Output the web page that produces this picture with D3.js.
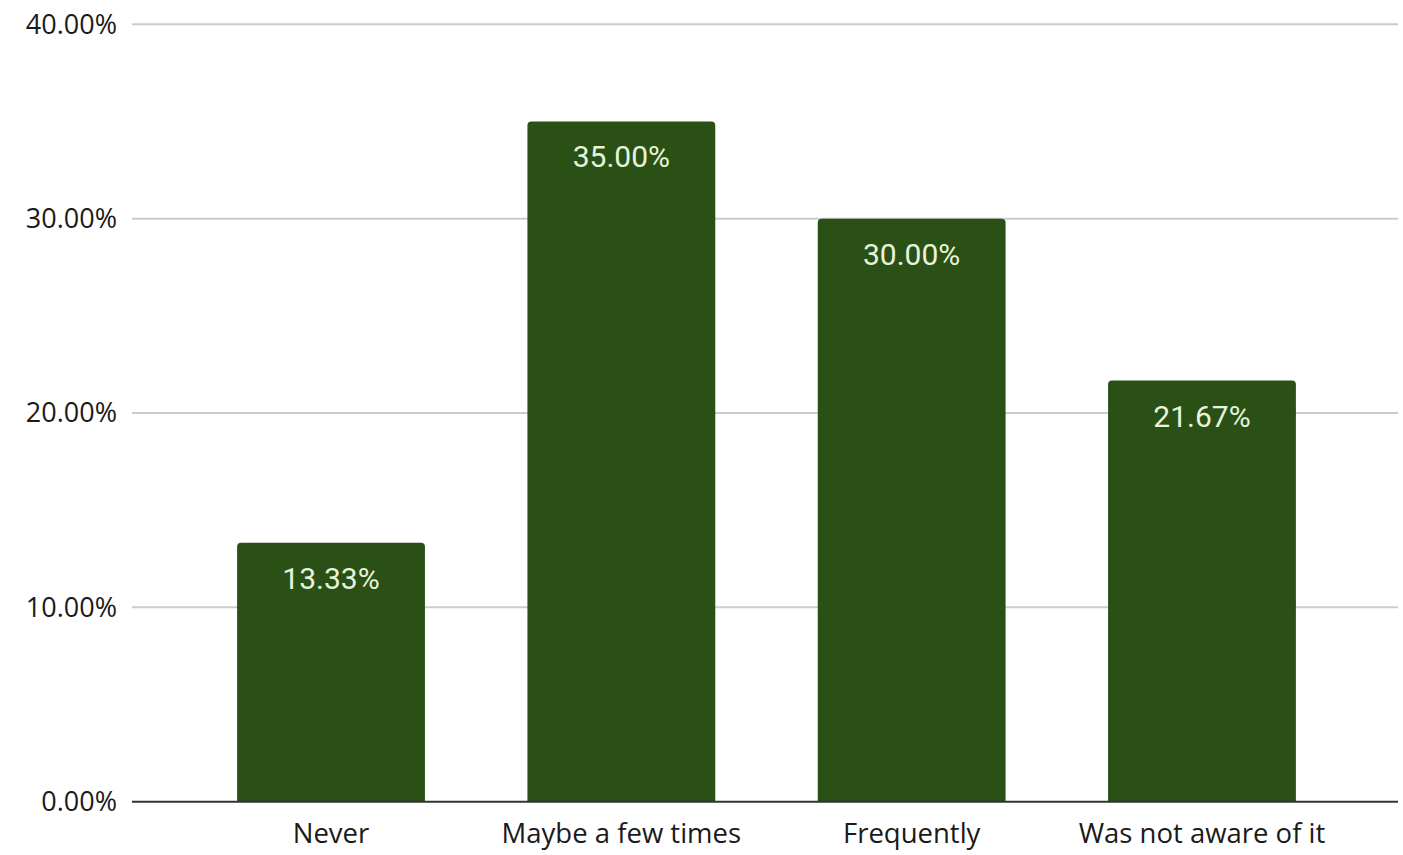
<!DOCTYPE html>
<html><head><meta charset="utf-8">
<script src="https://cdn.jsdelivr.net/npm/d3@7"></script>
<style>html,body{margin:0;padding:0;background:#fff;}</style>
</head><body>
<svg id="chart" width="1403" height="855"></svg>
<script>
const categories = ["Never", "Maybe a few times", "Frequently", "Was not aware of it"];
const values = [13.33, 35.00, 30.00, 21.67];
const yTicks = [0, 10, 20, 30, 40];

const svg = d3.select("#chart");
const gridLeft = 132, gridRight = 1398;
const y = d3.scaleLinear().domain([0, 40]).range([801.7, 24.3]);
const x = d3.scaleBand().domain(categories).range([186, 1347]).paddingInner(0.353).paddingOuter(0.176);

// gridlines
svg.append("g").selectAll("line").data(yTicks.filter(d => d > 0)).join("line")
  .attr("x1", gridLeft).attr("x2", gridRight)
  .attr("y1", d => y(d)).attr("y2", d => y(d))
  .attr("stroke", "#cccccc").attr("stroke-width", 2);

// y labels
svg.append("g").selectAll("text").data(yTicks).join("text")
  .attr("x", 117).attr("y", d => y(d))
  .attr("dy", "0.35em")
  .attr("text-anchor", "end")
  .attr("font-family", "Open Sans")
  .attr("font-size", 27)
  .attr("fill", "#1a1a1a")
  .text(d => d.toFixed(2) + "%");

// bars with rounded top corners
const r = 4;
svg.append("g").selectAll("path").data(values).join("path")
  .attr("fill", "#2a5016")
  .attr("d", (d, i) => {
    const x0 = x(categories[i]), w = x.bandwidth(), y0 = y(d), y1 = y(0);
    return `M${x0},${y1}V${y0 + r}Q${x0},${y0} ${x0 + r},${y0}H${x0 + w - r}Q${x0 + w},${y0} ${x0 + w},${y0 + r}V${y1}Z`;
  });

// baseline
svg.append("line").attr("x1", gridLeft).attr("x2", gridRight)
  .attr("y1", y(0)).attr("y2", y(0))
  .attr("stroke", "#333").attr("stroke-width", 2);

// value labels
svg.append("g").selectAll("text").data(values).join("text")
  .attr("x", (d, i) => x(categories[i]) + x.bandwidth() / 2)
  .attr("y", d => y(d) + 46)
  .attr("text-anchor", "middle")
  .attr("font-family", "Roboto")
  .attr("font-size", 30)
  .attr("fill", "#e6f4dc")
  .text(d => d.toFixed(2) + "%");

// category labels
svg.append("g").selectAll("text").data(categories).join("text")
  .attr("x", d => x(d) + x.bandwidth() / 2)
  .attr("y", 843)
  .attr("text-anchor", "middle")
  .attr("font-family", "Open Sans")
  .attr("font-size", 27.5)
  .attr("fill", "#1a1a1a")
  .text(d => d);
</script>
</body></html>
